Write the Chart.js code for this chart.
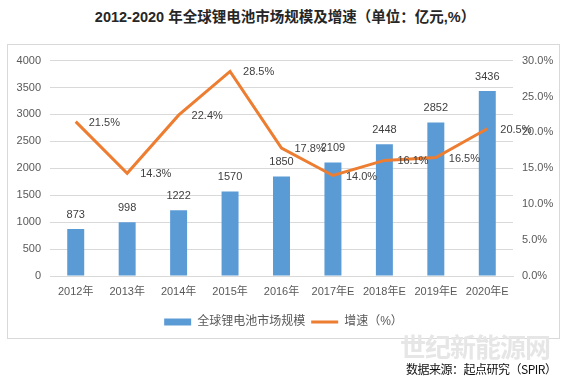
<!DOCTYPE html>
<html>
<head>
<meta charset="utf-8">
<script src="https://cdn.jsdelivr.net/npm/chart.js@4.4.0/dist/chart.umd.min.js"></script>
<style>
  body { margin: 0; background: #fff; width: 570px; height: 389px; position: relative; overflow: hidden; }
  #title { position: absolute; left: 0; top: 5px; width: 570px; text-align: center;
           font: bold 14.5px "Liberation Sans", "Noto Sans CJK SC"; color: #262626; }
  #box { position: absolute; left: 7px; top: 44px; width: 551px; height: 293px; border: 1px solid #d9d9d9; }
  #wm { position: absolute; left: 400px; top: 327px; font: bold 26px "Noto Sans CJK SC"; color: #e6e6e6;
        letter-spacing: -1px; }
  #src { position: absolute; left: 406px; top: 360px; font: 12px "Noto Sans CJK SC"; color: #111; letter-spacing: -0.5px; }
</style>
</head>
<body>
<div id="title">2012-2020 年全球锂电池市场规模及增速（单位：亿元,%）</div>
<div id="box"><canvas id="chart" width="551" height="293"></canvas></div>
<div id="wm">世纪新能源网</div>
<div id="src">数据来源：起点研究（SPIR）</div>
<script>
var years = ['2012年', '2013年', '2014年', '2015年', '2016年', '2017年E', '2018年E', '2019年E', '2020年E'];
var marketSize = [873, 998, 1222, 1570, 1850, 2109, 2448, 2852, 3436];
var growthRate = [21.5, 14.3, 22.4, 28.5, 17.8, 14.0, 16.1, 16.5, 20.5];
var seriesNames = ['全球锂电池市场规模', '增速（%）'];

var FONT = '"Liberation Sans", "Noto Sans CJK SC"';

// draws the value labels (no datalabels plugin available)
var valueLabels = {
    id: 'valueLabels',
    afterDatasetsDraw: function(chart) {
        var ctx = chart.ctx;
        ctx.save();
        ctx.font = '11px ' + FONT;
        ctx.fillStyle = '#404040';
        ctx.textBaseline = 'middle';
        chart.getDatasetMeta(0).data.forEach(function(bar, i) {
            ctx.textAlign = 'center';
            ctx.fillText(marketSize[i], bar.x, bar.y - 14);
        });
        chart.getDatasetMeta(1).data.forEach(function(pt, i) {
            ctx.textAlign = 'left';
            ctx.fillText(growthRate[i].toFixed(1) + '%', pt.x + 13, pt.y + 1);
        });
        ctx.restore();
    }
};

new Chart(document.getElementById('chart'), {
    data: {
        labels: years,
        datasets: [{
            type: 'bar',
            label: seriesNames[0],
            data: marketSize,
            backgroundColor: '#5b9bd5',
            yAxisID: 'y',
            categoryPercentage: 1,
            barPercentage: 0.33,
            order: 2
        }, {
            type: 'line',
            label: seriesNames[1],
            data: growthRate,
            borderColor: '#ed7d31',
            backgroundColor: '#ed7d31',
            borderWidth: 3,
            pointRadius: 0,
            tension: 0,
            yAxisID: 'y1',
            order: 1
        }]
    },
    options: {
        responsive: false,
        animation: false,
        layout: { padding: { top: 12, left: 0, right: 0, bottom: 0 } },
        plugins: {
            tooltip: { enabled: false },
            legend: {
                position: 'bottom',
                labels: {
                    font: { size: 12, family: FONT },
                    color: '#595959',
                    usePointStyle: true,
                    pointStyleWidth: 27,
                    boxHeight: 7,
                    padding: 6,
                    generateLabels: function(chart) {
                        var items = Chart.defaults.plugins.legend.labels.generateLabels(chart);
                        items.sort(function(a, b) { return a.datasetIndex - b.datasetIndex; });
                        items.forEach(function(it) {
                            if (it.datasetIndex === 0) {
                                it.pointStyle = 'rect';
                                it.fillStyle = '#5b9bd5';
                                it.strokeStyle = '#5b9bd5';
                                it.lineWidth = 0;
                            } else {
                                it.pointStyle = 'line';
                                it.strokeStyle = '#ed7d31';
                                it.lineWidth = 3;
                            }
                        });
                        return items;
                    }
                }
            }
        },
        scales: {
            x: {
                grid: { display: false },
                border: { display: true, color: '#d9d9d9' },
                ticks: { color: '#595959', font: { size: 11, family: FONT }, padding: 1, maxRotation: 0, autoSkip: false },
                afterFit: function(s) { s.height = 34; }
            },
            y: {
                position: 'left',
                min: 0, max: 4000,
                ticks: {
                    stepSize: 500, color: '#595959', font: { size: 11, family: FONT }, padding: 9,
                    callback: function(v) { return String(v); }
                },
                grid: { color: '#d9d9d9', drawTicks: false },
                border: { display: false },
                afterFit: function(s) { s.width = 42; }
            },
            y1: {
                position: 'right',
                min: 0, max: 30,
                ticks: {
                    stepSize: 5, color: '#595959', font: { size: 11, family: FONT }, padding: 9,
                    callback: function(v) { return v.toFixed(1) + '%'; }
                },
                grid: { display: false, drawTicks: false },
                border: { display: false },
                afterFit: function(s) { s.width = 46; }
            }
        }
    },
    plugins: [valueLabels]
});
</script>
</body>
</html>
